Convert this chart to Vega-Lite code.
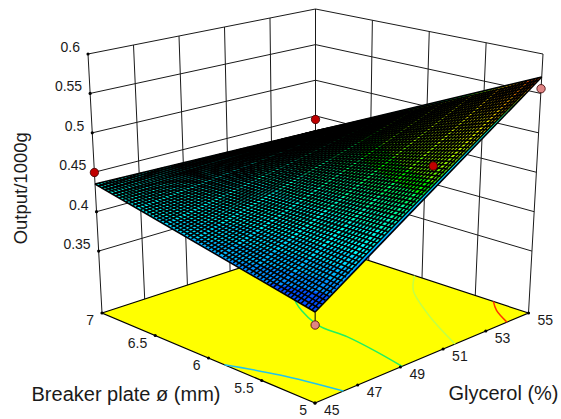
{"$schema":"https://vega.github.io/schema/vega-lite/v6.json","width":561,"height":419,"autosize":{"type":"fit","contains":"padding"},"padding":0,"background":"white","view":{"stroke":null},"config":{"font":"Liberation Sans"},
"data":{"values":[
{"k":"w","g":45,"p":7,"o":0.2715,"G":45,"P":7,"O":0.6},{"k":"w","g":47,"p":7,"o":0.2715,"G":47,"P":7,"O":0.6},{"k":"w","g":49,"p":7,"o":0.2715,"G":49,"P":7,"O":0.6},{"k":"w","g":51,"p":7,"o":0.2715,"G":51,"P":7,"O":0.6},{"k":"w","g":53,"p":7,"o":0.2715,"G":53,"P":7,"O":0.6},{"k":"w","g":55,"p":7,"o":0.2715,"G":55,"P":7,"O":0.6},
{"k":"w","g":55,"p":6.5,"o":0.2715,"G":55,"P":6.5,"O":0.6},{"k":"w","g":55,"p":6,"o":0.2715,"G":55,"P":6,"O":0.6},{"k":"w","g":55,"p":5.5,"o":0.2715,"G":55,"P":5.5,"O":0.6},{"k":"w","g":55,"p":5,"o":0.2715,"G":55,"P":5,"O":0.6},
{"k":"w","g":45,"p":7,"o":0.35,"G":55,"P":7,"O":0.35},{"k":"w","g":45,"p":7,"o":0.4,"G":55,"P":7,"O":0.4},{"k":"w","g":45,"p":7,"o":0.45,"G":55,"P":7,"O":0.45},{"k":"w","g":45,"p":7,"o":0.5,"G":55,"P":7,"O":0.5},{"k":"w","g":45,"p":7,"o":0.55,"G":55,"P":7,"O":0.55},{"k":"w","g":45,"p":7,"o":0.6,"G":55,"P":7,"O":0.6},
{"k":"w","g":55,"p":7,"o":0.35,"G":55,"P":5,"O":0.35},{"k":"w","g":55,"p":7,"o":0.4,"G":55,"P":5,"O":0.4},{"k":"w","g":55,"p":7,"o":0.45,"G":55,"P":5,"O":0.45},{"k":"w","g":55,"p":7,"o":0.5,"G":55,"P":5,"O":0.5},{"k":"w","g":55,"p":7,"o":0.55,"G":55,"P":5,"O":0.55},{"k":"w","g":55,"p":7,"o":0.6,"G":55,"P":5,"O":0.6},
{"k":"f","g":45,"p":5,"o":0.2715},{"k":"f","g":55,"p":5,"o":0.2715},{"k":"f","g":55,"p":7,"o":0.2715},{"k":"f","g":45,"p":7,"o":0.2715},{"k":"f","g":45,"p":5,"o":0.2715},
{"k":"c","n":"0.4","g":45,"p":5.85,"o":0.2715},{"k":"c","n":"0.4","g":45.75,"p":5.48,"o":0.2715},{"k":"c","n":"0.4","g":46.33,"p":5,"o":0.2715},
{"k":"c","n":"0.45","g":49.08,"p":5,"o":0.2715},{"k":"c","n":"0.45","g":49.39,"p":5.33,"o":0.2715},{"k":"c","n":"0.45","g":49.59,"p":5.62,"o":0.2715},{"k":"c","n":"0.45","g":49.66,"p":5.93,"o":0.2715},{"k":"c","n":"0.45","g":50.89,"p":6.38,"o":0.2715},{"k":"c","n":"0.45","g":52.5,"p":6.6,"o":0.2715},
{"k":"c","n":"0.5","g":51.56,"p":5,"o":0.2715},{"k":"c","n":"0.5","g":52.68,"p":5.46,"o":0.2715},{"k":"c","n":"0.5","g":53.91,"p":5.86,"o":0.2715},{"k":"c","n":"0.5","g":54.33,"p":5.95,"o":0.2715},{"k":"c","n":"0.5","g":55,"p":6.07,"o":0.2715},
{"k":"c","n":"0.55","g":53.99,"p":5,"o":0.2715},{"k":"c","n":"0.55","g":54.5,"p":5.2,"o":0.2715},{"k":"c","n":"0.55","g":55,"p":5.33,"o":0.2715},
{"k":"tz","txt":"0.35","g":45,"p":7,"o":0.35},{"k":"tz","txt":"0.4","g":45,"p":7,"o":0.4},{"k":"tz","txt":"0.45","g":45,"p":7,"o":0.45},{"k":"tz","txt":"0.5","g":45,"p":7,"o":0.5},{"k":"tz","txt":"0.55","g":45,"p":7,"o":0.55},{"k":"tz","txt":"0.6","g":45,"p":7,"o":0.6},
{"k":"tp","txt":"5","g":45,"p":5,"o":0.2715},{"k":"tp","txt":"5.5","g":45,"p":5.5,"o":0.2715},{"k":"tp","txt":"6","g":45,"p":6,"o":0.2715},{"k":"tp","txt":"6.5","g":45,"p":6.5,"o":0.2715},{"k":"tp","txt":"7","g":45,"p":7,"o":0.2715},
{"k":"tg","txt":"45","g":45,"p":5,"o":0.2715},{"k":"tg","txt":"47","g":47,"p":5,"o":0.2715},{"k":"tg","txt":"49","g":49,"p":5,"o":0.2715},{"k":"tg","txt":"51","g":51,"p":5,"o":0.2715},{"k":"tg","txt":"53","g":53,"p":5,"o":0.2715},{"k":"tg","txt":"55","g":55,"p":5,"o":0.2715},
{"k":"h1","txt":"Breaker plate ø (mm)","g":45,"p":6,"o":0.2715},{"k":"h2","txt":"Glycerol (%)","g":51,"p":5,"o":0.2715},{"k":"h3","txt":"Output/1000g","g":45,"p":7,"o":0.45},
{"k":"s","L":0.3768,"g":45,"p":5,"o":0.3768},{"k":"s","L":0.3768,"g":55,"p":5,"o":0.5708},{"k":"s","L":0.3768,"g":55,"p":7,"o":0.4287},{"k":"s","L":0.3768,"g":45,"p":7,"o":0.4351},
{"k":"s","L":0.39,"g":45,"p":5.453,"o":0.39},{"k":"s","L":0.39,"g":45.37,"p":5.24,"o":0.39},{"k":"s","L":0.39,"g":45.68,"p":5,"o":0.39},{"k":"s","L":0.39,"g":55,"p":5,"o":0.5708},{"k":"s","L":0.39,"g":55,"p":7,"o":0.4287},{"k":"s","L":0.39,"g":45,"p":7,"o":0.4351},
{"k":"s","L":0.4,"g":45,"p":5.796,"o":0.4},{"k":"s","L":0.4,"g":45.43,"p":5.6,"o":0.4},{"k":"s","L":0.4,"g":45.75,"p":5.4,"o":0.4},{"k":"s","L":0.4,"g":46.2,"p":5,"o":0.4},{"k":"s","L":0.4,"g":55,"p":5,"o":0.5708},{"k":"s","L":0.4,"g":55,"p":7,"o":0.4287},{"k":"s","L":0.4,"g":45,"p":7,"o":0.4351},
{"k":"s","L":0.41,"g":45,"p":6.139,"o":0.41},{"k":"s","L":0.41,"g":45.87,"p":5.8,"o":0.41},{"k":"s","L":0.41,"g":46.4,"p":5.4,"o":0.41},{"k":"s","L":0.41,"g":46.71,"p":5,"o":0.41},{"k":"s","L":0.41,"g":55,"p":5,"o":0.5708},{"k":"s","L":0.41,"g":55,"p":7,"o":0.4287},{"k":"s","L":0.41,"g":45,"p":7,"o":0.4351},
{"k":"s","L":0.42,"g":45,"p":6.482,"o":0.42},{"k":"s","L":0.42,"g":46.5,"p":6,"o":0.42},{"k":"s","L":0.42,"g":46.99,"p":5.5,"o":0.42},{"k":"s","L":0.42,"g":47.23,"p":5,"o":0.42},{"k":"s","L":0.42,"g":55,"p":5,"o":0.5708},{"k":"s","L":0.42,"g":55,"p":7,"o":0.4287},{"k":"s","L":0.42,"g":45,"p":7,"o":0.4351},
{"k":"s","L":0.428,"g":45,"p":6.756,"o":0.428},{"k":"s","L":0.428,"g":46.94,"p":6.4,"o":0.428},{"k":"s","L":0.428,"g":47.45,"p":5.8,"o":0.428},{"k":"s","L":0.428,"g":47.57,"p":5.4,"o":0.428},{"k":"s","L":0.428,"g":47.64,"p":5,"o":0.428},{"k":"s","L":0.428,"g":55,"p":5,"o":0.5708},{"k":"s","L":0.428,"g":55,"p":7,"o":0.4287},{"k":"s","L":0.428,"g":45,"p":7,"o":0.4351},
{"k":"s","L":0.44,"g":55,"p":6.841,"o":0.44},{"k":"s","L":0.44,"g":52.89,"p":6.8,"o":0.44},{"k":"s","L":0.44,"g":50.76,"p":6.7,"o":0.44},{"k":"s","L":0.44,"g":49.17,"p":6.4,"o":0.44},{"k":"s","L":0.44,"g":48.63,"p":6,"o":0.44},{"k":"s","L":0.44,"g":48.35,"p":5.4,"o":0.44},{"k":"s","L":0.44,"g":48.26,"p":5,"o":0.44},{"k":"s","L":0.44,"g":55,"p":5,"o":0.5708},
{"k":"s","L":0.45,"g":55,"p":6.7,"o":0.45},{"k":"s","L":0.45,"g":51.75,"p":6.5,"o":0.45},{"k":"s","L":0.45,"g":50.18,"p":6.2,"o":0.45},{"k":"s","L":0.45,"g":49.38,"p":5.8,"o":0.45},{"k":"s","L":0.45,"g":49,"p":5.4,"o":0.45},{"k":"s","L":0.45,"g":48.77,"p":5,"o":0.45},{"k":"s","L":0.45,"g":55,"p":5,"o":0.5708},
{"k":"s","L":0.46,"g":55,"p":6.56,"o":0.46},{"k":"s","L":0.46,"g":52.89,"p":6.4,"o":0.46},{"k":"s","L":0.46,"g":51.53,"p":6.2,"o":0.46},{"k":"s","L":0.46,"g":50.26,"p":5.8,"o":0.46},{"k":"s","L":0.46,"g":49.65,"p":5.4,"o":0.46},{"k":"s","L":0.46,"g":49.29,"p":5,"o":0.46},{"k":"s","L":0.46,"g":55,"p":5,"o":0.5708},
{"k":"s","L":0.47,"g":55,"p":6.418,"o":0.47},{"k":"s","L":0.47,"g":52.89,"p":6.2,"o":0.47},{"k":"s","L":0.47,"g":51.14,"p":5.8,"o":0.47},{"k":"s","L":0.47,"g":50.3,"p":5.4,"o":0.47},{"k":"s","L":0.47,"g":49.8,"p":5,"o":0.47},{"k":"s","L":0.47,"g":55,"p":5,"o":0.5708},
{"k":"s","L":0.48,"g":55,"p":6.278,"o":0.48},{"k":"s","L":0.48,"g":53.48,"p":6.1,"o":0.48},{"k":"s","L":0.48,"g":52.02,"p":5.8,"o":0.48},{"k":"s","L":0.48,"g":50.95,"p":5.4,"o":0.48},{"k":"s","L":0.48,"g":50.32,"p":5,"o":0.48},{"k":"s","L":0.48,"g":55,"p":5,"o":0.5708},
{"k":"s","L":0.49,"g":55,"p":6.138,"o":0.49},{"k":"s","L":0.49,"g":52.9,"p":5.8,"o":0.49},{"k":"s","L":0.49,"g":51.6,"p":5.4,"o":0.49},{"k":"s","L":0.49,"g":50.84,"p":5,"o":0.49},{"k":"s","L":0.49,"g":55,"p":5,"o":0.5708},
{"k":"s","L":0.5,"g":55,"p":5.996,"o":0.5},{"k":"s","L":0.5,"g":53.78,"p":5.8,"o":0.5},{"k":"s","L":0.5,"g":52.25,"p":5.4,"o":0.5},{"k":"s","L":0.5,"g":51.35,"p":5,"o":0.5},{"k":"s","L":0.5,"g":55,"p":5,"o":0.5708},
{"k":"s","L":0.51,"g":55,"p":5.856,"o":0.51},{"k":"s","L":0.51,"g":54.1,"p":5.7,"o":0.51},{"k":"s","L":0.51,"g":52.9,"p":5.4,"o":0.51},{"k":"s","L":0.51,"g":51.87,"p":5,"o":0.51},{"k":"s","L":0.51,"g":55,"p":5,"o":0.5708},
{"k":"s","L":0.52,"g":55,"p":5.714,"o":0.52},{"k":"s","L":0.52,"g":53.55,"p":5.4,"o":0.52},{"k":"s","L":0.52,"g":52.38,"p":5,"o":0.52},{"k":"s","L":0.52,"g":55,"p":5,"o":0.5708},
{"k":"s","L":0.53,"g":55,"p":5.574,"o":0.53},{"k":"s","L":0.53,"g":53.82,"p":5.3,"o":0.53},{"k":"s","L":0.53,"g":52.9,"p":5,"o":0.53},{"k":"s","L":0.53,"g":55,"p":5,"o":0.5708},
{"k":"s","L":0.54,"g":55,"p":5.434,"o":0.54},{"k":"s","L":0.54,"g":54.05,"p":5.2,"o":0.54},{"k":"s","L":0.54,"g":53.41,"p":5,"o":0.54},{"k":"s","L":0.54,"g":55,"p":5,"o":0.5708},
{"k":"s","L":0.55,"g":55,"p":5.292,"o":0.55},{"k":"s","L":0.55,"g":54.47,"p":5.16,"o":0.55},{"k":"s","L":0.55,"g":53.93,"p":5,"o":0.55},{"k":"s","L":0.55,"g":55,"p":5,"o":0.5708},
{"k":"s","L":0.56,"g":55,"p":5.152,"o":0.56},{"k":"s","L":0.56,"g":54.44,"p":5,"o":0.56},{"k":"s","L":0.56,"g":55,"p":5,"o":0.5708},
{"k":"m","g":45,"p":5,"o":0.3768,"G":45,"P":7,"O":0.4351},{"k":"m","g":45.16,"p":5,"o":0.3798,"G":45.16,"P":7,"O":0.435},{"k":"m","g":45.31,"p":5,"o":0.3829,"G":45.31,"P":7,"O":0.4349},{"k":"m","g":45.47,"p":5,"o":0.3859,"G":45.47,"P":7,"O":0.4348},{"k":"m","g":45.63,"p":5,"o":0.3889,"G":45.63,"P":7,"O":0.4347},{"k":"m","g":45.78,"p":5,"o":0.392,"G":45.78,"P":7,"O":0.4346},{"k":"m","g":45.94,"p":5,"o":0.395,"G":45.94,"P":7,"O":0.4345},{"k":"m","g":46.09,"p":5,"o":0.398,"G":46.09,"P":7,"O":0.4344},{"k":"m","g":46.25,"p":5,"o":0.401,"G":46.25,"P":7,"O":0.4343},{"k":"m","g":46.41,"p":5,"o":0.4041,"G":46.41,"P":7,"O":0.4342},{"k":"m","g":46.56,"p":5,"o":0.4071,"G":46.56,"P":7,"O":0.4341},{"k":"m","g":46.72,"p":5,"o":0.4101,"G":46.72,"P":7,"O":0.434},{"k":"m","g":46.88,"p":5,"o":0.4132,"G":46.88,"P":7,"O":0.4339},{"k":"m","g":47.03,"p":5,"o":0.4162,"G":47.03,"P":7,"O":0.4338},{"k":"m","g":47.19,"p":5,"o":0.4192,"G":47.19,"P":7,"O":0.4337},{"k":"m","g":47.34,"p":5,"o":0.4223,"G":47.34,"P":7,"O":0.4336},{"k":"m","g":47.5,"p":5,"o":0.4253,"G":47.5,"P":7,"O":0.4335},{"k":"m","g":47.66,"p":5,"o":0.4283,"G":47.66,"P":7,"O":0.4334},{"k":"m","g":47.81,"p":5,"o":0.4314,"G":47.81,"P":7,"O":0.4333},{"k":"m","g":47.97,"p":5,"o":0.4344,"G":47.97,"P":7,"O":0.4332},{"k":"m","g":48.13,"p":5,"o":0.4374,"G":48.13,"P":7,"O":0.4331},{"k":"m","g":48.28,"p":5,"o":0.4405,"G":48.28,"P":7,"O":0.433},{"k":"m","g":48.44,"p":5,"o":0.4435,"G":48.44,"P":7,"O":0.4329},{"k":"m","g":48.59,"p":5,"o":0.4465,"G":48.59,"P":7,"O":0.4328},{"k":"m","g":48.75,"p":5,"o":0.4495,"G":48.75,"P":7,"O":0.4327},{"k":"m","g":48.91,"p":5,"o":0.4526,"G":48.91,"P":7,"O":0.4326},{"k":"m","g":49.06,"p":5,"o":0.4556,"G":49.06,"P":7,"O":0.4325},{"k":"m","g":49.22,"p":5,"o":0.4586,"G":49.22,"P":7,"O":0.4324},{"k":"m","g":49.38,"p":5,"o":0.4617,"G":49.38,"P":7,"O":0.4323},{"k":"m","g":49.53,"p":5,"o":0.4647,"G":49.53,"P":7,"O":0.4322},{"k":"m","g":49.69,"p":5,"o":0.4677,"G":49.69,"P":7,"O":0.4321},{"k":"m","g":49.84,"p":5,"o":0.4708,"G":49.84,"P":7,"O":0.432},{"k":"m","g":50,"p":5,"o":0.4738,"G":50,"P":7,"O":0.4319},{"k":"m","g":50.16,"p":5,"o":0.4768,"G":50.16,"P":7,"O":0.4318},{"k":"m","g":50.31,"p":5,"o":0.4799,"G":50.31,"P":7,"O":0.4317},{"k":"m","g":50.47,"p":5,"o":0.4829,"G":50.47,"P":7,"O":0.4316},{"k":"m","g":50.63,"p":5,"o":0.4859,"G":50.63,"P":7,"O":0.4315},{"k":"m","g":50.78,"p":5,"o":0.489,"G":50.78,"P":7,"O":0.4314},{"k":"m","g":50.94,"p":5,"o":0.492,"G":50.94,"P":7,"O":0.4313},{"k":"m","g":51.09,"p":5,"o":0.495,"G":51.09,"P":7,"O":0.4312},{"k":"m","g":51.25,"p":5,"o":0.4981,"G":51.25,"P":7,"O":0.4311},{"k":"m","g":51.41,"p":5,"o":0.5011,"G":51.41,"P":7,"O":0.431},{"k":"m","g":51.56,"p":5,"o":0.5041,"G":51.56,"P":7,"O":0.4309},{"k":"m","g":51.72,"p":5,"o":0.5071,"G":51.72,"P":7,"O":0.4308},{"k":"m","g":51.88,"p":5,"o":0.5102,"G":51.88,"P":7,"O":0.4307},{"k":"m","g":52.03,"p":5,"o":0.5132,"G":52.03,"P":7,"O":0.4306},{"k":"m","g":52.19,"p":5,"o":0.5162,"G":52.19,"P":7,"O":0.4305},{"k":"m","g":52.34,"p":5,"o":0.5193,"G":52.34,"P":7,"O":0.4304},{"k":"m","g":52.5,"p":5,"o":0.5223,"G":52.5,"P":7,"O":0.4303},{"k":"m","g":52.66,"p":5,"o":0.5253,"G":52.66,"P":7,"O":0.4302},{"k":"m","g":52.81,"p":5,"o":0.5284,"G":52.81,"P":7,"O":0.4301},{"k":"m","g":52.97,"p":5,"o":0.5314,"G":52.97,"P":7,"O":0.43},{"k":"m","g":53.13,"p":5,"o":0.5344,"G":53.13,"P":7,"O":0.4299},{"k":"m","g":53.28,"p":5,"o":0.5375,"G":53.28,"P":7,"O":0.4298},{"k":"m","g":53.44,"p":5,"o":0.5405,"G":53.44,"P":7,"O":0.4297},{"k":"m","g":53.59,"p":5,"o":0.5435,"G":53.59,"P":7,"O":0.4296},{"k":"m","g":53.75,"p":5,"o":0.5466,"G":53.75,"P":7,"O":0.4295},{"k":"m","g":53.91,"p":5,"o":0.5496,"G":53.91,"P":7,"O":0.4294},{"k":"m","g":54.06,"p":5,"o":0.5526,"G":54.06,"P":7,"O":0.4293},{"k":"m","g":54.22,"p":5,"o":0.5556,"G":54.22,"P":7,"O":0.4292},{"k":"m","g":54.38,"p":5,"o":0.5587,"G":54.38,"P":7,"O":0.4291},{"k":"m","g":54.53,"p":5,"o":0.5617,"G":54.53,"P":7,"O":0.429},{"k":"m","g":54.69,"p":5,"o":0.5647,"G":54.69,"P":7,"O":0.4289},{"k":"m","g":54.84,"p":5,"o":0.5678,"G":54.84,"P":7,"O":0.4288},{"k":"m","g":55,"p":5,"o":0.5708,"G":55,"P":7,"O":0.4287},
{"k":"m","g":45,"p":5,"o":0.3768,"G":55,"P":5,"O":0.5708},{"k":"m","g":45,"p":5.03,"o":0.3777,"G":55,"P":5.03,"O":0.5686},{"k":"m","g":45,"p":5.06,"o":0.3786,"G":55,"P":5.06,"O":0.5664},{"k":"m","g":45,"p":5.09,"o":0.3795,"G":55,"P":5.09,"O":0.5641},{"k":"m","g":45,"p":5.13,"o":0.3804,"G":55,"P":5.13,"O":0.5619},{"k":"m","g":45,"p":5.16,"o":0.3814,"G":55,"P":5.16,"O":0.5597},{"k":"m","g":45,"p":5.19,"o":0.3823,"G":55,"P":5.19,"O":0.5575},{"k":"m","g":45,"p":5.22,"o":0.3832,"G":55,"P":5.22,"O":0.5553},{"k":"m","g":45,"p":5.25,"o":0.3841,"G":55,"P":5.25,"O":0.553},{"k":"m","g":45,"p":5.28,"o":0.385,"G":55,"P":5.28,"O":0.5508},{"k":"m","g":45,"p":5.31,"o":0.3859,"G":55,"P":5.31,"O":0.5486},{"k":"m","g":45,"p":5.34,"o":0.3868,"G":55,"P":5.34,"O":0.5464},{"k":"m","g":45,"p":5.38,"o":0.3877,"G":55,"P":5.38,"O":0.5442},{"k":"m","g":45,"p":5.41,"o":0.3886,"G":55,"P":5.41,"O":0.5419},{"k":"m","g":45,"p":5.44,"o":0.3896,"G":55,"P":5.44,"O":0.5397},{"k":"m","g":45,"p":5.47,"o":0.3905,"G":55,"P":5.47,"O":0.5375},{"k":"m","g":45,"p":5.5,"o":0.3914,"G":55,"P":5.5,"O":0.5353},{"k":"m","g":45,"p":5.53,"o":0.3923,"G":55,"P":5.53,"O":0.5331},{"k":"m","g":45,"p":5.56,"o":0.3932,"G":55,"P":5.56,"O":0.5308},{"k":"m","g":45,"p":5.59,"o":0.3941,"G":55,"P":5.59,"O":0.5286},{"k":"m","g":45,"p":5.63,"o":0.395,"G":55,"P":5.63,"O":0.5264},{"k":"m","g":45,"p":5.66,"o":0.3959,"G":55,"P":5.66,"O":0.5242},{"k":"m","g":45,"p":5.69,"o":0.3968,"G":55,"P":5.69,"O":0.522},{"k":"m","g":45,"p":5.72,"o":0.3978,"G":55,"P":5.72,"O":0.5197},{"k":"m","g":45,"p":5.75,"o":0.3987,"G":55,"P":5.75,"O":0.5175},{"k":"m","g":45,"p":5.78,"o":0.3996,"G":55,"P":5.78,"O":0.5153},{"k":"m","g":45,"p":5.81,"o":0.4005,"G":55,"P":5.81,"O":0.5131},{"k":"m","g":45,"p":5.84,"o":0.4014,"G":55,"P":5.84,"O":0.5109},{"k":"m","g":45,"p":5.88,"o":0.4023,"G":55,"P":5.88,"O":0.5086},{"k":"m","g":45,"p":5.91,"o":0.4032,"G":55,"P":5.91,"O":0.5064},{"k":"m","g":45,"p":5.94,"o":0.4041,"G":55,"P":5.94,"O":0.5042},{"k":"m","g":45,"p":5.97,"o":0.405,"G":55,"P":5.97,"O":0.502},{"k":"m","g":45,"p":6,"o":0.406,"G":55,"P":6,"O":0.4998},{"k":"m","g":45,"p":6.03,"o":0.4069,"G":55,"P":6.03,"O":0.4975},{"k":"m","g":45,"p":6.06,"o":0.4078,"G":55,"P":6.06,"O":0.4953},{"k":"m","g":45,"p":6.09,"o":0.4087,"G":55,"P":6.09,"O":0.4931},{"k":"m","g":45,"p":6.13,"o":0.4096,"G":55,"P":6.13,"O":0.4909},{"k":"m","g":45,"p":6.16,"o":0.4105,"G":55,"P":6.16,"O":0.4887},{"k":"m","g":45,"p":6.19,"o":0.4114,"G":55,"P":6.19,"O":0.4864},{"k":"m","g":45,"p":6.22,"o":0.4123,"G":55,"P":6.22,"O":0.4842},{"k":"m","g":45,"p":6.25,"o":0.4132,"G":55,"P":6.25,"O":0.482},{"k":"m","g":45,"p":6.28,"o":0.4142,"G":55,"P":6.28,"O":0.4798},{"k":"m","g":45,"p":6.31,"o":0.4151,"G":55,"P":6.31,"O":0.4776},{"k":"m","g":45,"p":6.34,"o":0.416,"G":55,"P":6.34,"O":0.4753},{"k":"m","g":45,"p":6.38,"o":0.4169,"G":55,"P":6.38,"O":0.4731},{"k":"m","g":45,"p":6.41,"o":0.4178,"G":55,"P":6.41,"O":0.4709},{"k":"m","g":45,"p":6.44,"o":0.4187,"G":55,"P":6.44,"O":0.4687},{"k":"m","g":45,"p":6.47,"o":0.4196,"G":55,"P":6.47,"O":0.4665},{"k":"m","g":45,"p":6.5,"o":0.4205,"G":55,"P":6.5,"O":0.4642},{"k":"m","g":45,"p":6.53,"o":0.4214,"G":55,"P":6.53,"O":0.462},{"k":"m","g":45,"p":6.56,"o":0.4224,"G":55,"P":6.56,"O":0.4598},{"k":"m","g":45,"p":6.59,"o":0.4233,"G":55,"P":6.59,"O":0.4576},{"k":"m","g":45,"p":6.63,"o":0.4242,"G":55,"P":6.63,"O":0.4554},{"k":"m","g":45,"p":6.66,"o":0.4251,"G":55,"P":6.66,"O":0.4531},{"k":"m","g":45,"p":6.69,"o":0.426,"G":55,"P":6.69,"O":0.4509},{"k":"m","g":45,"p":6.72,"o":0.4269,"G":55,"P":6.72,"O":0.4487},{"k":"m","g":45,"p":6.75,"o":0.4278,"G":55,"P":6.75,"O":0.4465},{"k":"m","g":45,"p":6.78,"o":0.4287,"G":55,"P":6.78,"O":0.4443},{"k":"m","g":45,"p":6.81,"o":0.4296,"G":55,"P":6.81,"O":0.442},{"k":"m","g":45,"p":6.84,"o":0.4305,"G":55,"P":6.84,"O":0.4398},{"k":"m","g":45,"p":6.88,"o":0.4315,"G":55,"P":6.88,"O":0.4376},{"k":"m","g":45,"p":6.91,"o":0.4324,"G":55,"P":6.91,"O":0.4354},{"k":"m","g":45,"p":6.94,"o":0.4333,"G":55,"P":6.94,"O":0.4332},{"k":"m","g":45,"p":6.97,"o":0.4342,"G":55,"P":6.97,"O":0.4309},{"k":"m","g":45,"p":7,"o":0.4351,"G":55,"P":7,"O":0.4287},
{"k":"st","g":45,"p":5,"o":0.3768,"G":45,"P":5,"O":0.3617},
{"k":"d","n":"above","g":45,"p":7,"o":0.4497},{"k":"d","n":"above","g":55,"p":7,"o":0.4449},{"k":"d","n":"above","g":51.5,"p":5.24,"o":0.4815},{"k":"d","n":"below","g":55,"p":5,"o":0.556},{"k":"d","n":"below","g":45,"p":5,"o":0.3617}
]},
"transform":[
{"calculate":"(datum.g-45)/10","as":"a"},{"calculate":"(datum.p-5)/2","as":"b"},{"calculate":"(datum.o-0.2715)/0.3285","as":"c"},
{"calculate":"315+213.5*datum.a-213*datum.b+datum.c*(0.5+14*datum.a-14.5*datum.b)","as":"X"},
{"calculate":"403-90*datum.a-90*datum.b+20*datum.a*datum.b+datum.c*(-284+25*datum.a+25*datum.b)","as":"Y"},
{"calculate":"(datum.G-45)/10","as":"a2"},{"calculate":"(datum.P-5)/2","as":"b2"},{"calculate":"(datum.O-0.2715)/0.3285","as":"c2"},
{"calculate":"315+213.5*datum.a2-213*datum.b2+datum.c2*(0.5+14*datum.a2-14.5*datum.b2)","as":"X2"},
{"calculate":"403-90*datum.a2-90*datum.b2+20*datum.a2*datum.b2+datum.c2*(-284+25*datum.a2+25*datum.b2)","as":"Y2"}
],
"encoding":{"x":{"field":"X","type":"quantitative","scale":{"domain":[0,561],"nice":false,"zero":false},"axis":null},"y":{"field":"Y","type":"quantitative","scale":{"domain":[419,0],"nice":false,"zero":false},"axis":null}},
"layer":[
{"transform":[{"filter":"datum.k=='w'"}],"mark":{"type":"rule","stroke":"#1a1a1a","strokeWidth":1},"encoding":{"x2":{"field":"X2"},"y2":{"field":"Y2"}}},
{"transform":[{"filter":"datum.k=='f'"}],"mark":{"type":"line","order":null,"fill":"#ffff00","stroke":"#000000","strokeWidth":1.2}},
{"transform":[{"filter":"datum.k=='c'"}],"mark":{"type":"line","order":null,"strokeWidth":1.5,"interpolate":"catmull-rom"},"encoding":{"stroke":{"field":"n","type":"nominal","scale":{"domain":["0.4","0.45","0.5","0.55"],"range":["#22c4ec","#22f060","#c4ff44","#ff3300"]},"legend":null}}},
{"transform":[{"filter":"datum.k=='tz'||datum.k=='tp'||datum.k=='tg'"}],"mark":{"type":"point","filled":true,"fill":"#000000","size":10,"opacity":1}},
{"transform":[{"filter":"datum.k=='tz'"}],"mark":{"type":"text","font":"Liberation Sans","fontSize":14,"align":"right","baseline":"middle","dx":-8,"dy":-6,"fill":"#1a1a1a"},"encoding":{"text":{"field":"txt"}}},
{"transform":[{"filter":"datum.k=='tp'"}],"mark":{"type":"text","font":"Liberation Sans","fontSize":14,"align":"right","baseline":"middle","dx":-8,"dy":8,"fill":"#1a1a1a"},"encoding":{"text":{"field":"txt"}}},
{"transform":[{"filter":"datum.k=='tg'"}],"mark":{"type":"text","font":"Liberation Sans","fontSize":14,"align":"left","baseline":"middle","dx":9,"dy":8,"fill":"#1a1a1a"},"encoding":{"text":{"field":"txt"}}},
{"transform":[{"filter":"datum.k=='h1'"}],"mark":{"type":"text","font":"Liberation Sans","fontSize":20,"align":"center","baseline":"middle","dx":-82.5,"dy":37,"fill":"#1a1a1a"},"encoding":{"text":{"field":"txt"}}},
{"transform":[{"filter":"datum.k=='h2'"}],"mark":{"type":"text","font":"Liberation Sans","fontSize":20,"align":"center","baseline":"middle","dx":60.4,"dy":45,"fill":"#1a1a1a"},"encoding":{"text":{"field":"txt"}}},
{"transform":[{"filter":"datum.k=='h3'"}],"mark":{"type":"text","font":"Liberation Sans","fontSize":18.5,"align":"center","baseline":"middle","angle":270,"dx":-16,"dy":-73,"fill":"#1a1a1a"},"encoding":{"text":{"field":"txt"}}},
{"transform":[{"filter":"datum.k=='s'"}],"mark":{"type":"line","order":null,"strokeWidth":0},"encoding":{"detail":{"field":"L","type":"quantitative"},"fill":{"field":"L","type":"quantitative","scale":{"domain":[0.37,0.42,0.47,0.52,0.567],"range":["#0000ff","#00ffff","#00ff00","#ffff00","#ff0000"]},"legend":null}}},
{"transform":[{"filter":"datum.k=='m'"}],"mark":{"type":"rule","stroke":"#000000","strokeWidth":1.6},"encoding":{"x2":{"field":"X2"},"y2":{"field":"Y2"}}},
{"transform":[{"filter":"datum.k=='st'"}],"mark":{"type":"rule","stroke":"#000000","strokeWidth":1},"encoding":{"x2":{"field":"X2"},"y2":{"field":"Y2"}}},
{"transform":[{"filter":"datum.k=='d'"}],"mark":{"type":"point","filled":true,"size":70,"stroke":"#3a0000","strokeWidth":0.8,"opacity":1},"encoding":{"color":{"field":"n","type":"nominal","scale":{"domain":["above","below"],"range":["#c00000","#e08585"]},"legend":null}}}
]}
